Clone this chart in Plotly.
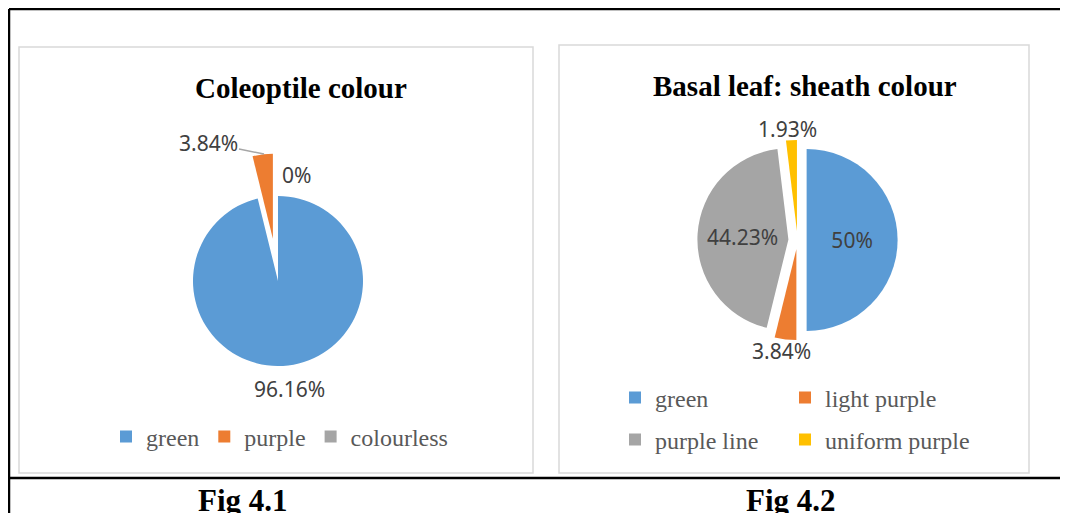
import plotly.graph_objects as go

# the page body keeps an 8px margin, so the figure is a bit smaller than the window
OFF = 8
W, H = 1068 - OFF, 513 - OFF

# chart data
cole_labels = ["green", "purple", "colourless"]
cole_values = [96.16, 3.84, 0]

basal_labels = ["green", "light purple", "purple line", "uniform purple"]
basal_values = [50, 3.84, 44.23, 1.93]

excel_colors = ["#5B9BD5", "#ED7D31", "#A5A5A5", "#FFC000"]


def fx(x):
    # window pixel -> paper
    return (x - OFF) / W


def fy(y):
    return 1 - (y - OFF) / H


def pct(v):
    return f"{v:g}%"


fig = go.Figure()

fig.add_trace(go.Pie(
    labels=cole_labels,
    values=cole_values,
    textinfo="none",
    sort=False,
    direction="clockwise",
    rotation=0,
    pull=[0, 0.5, 0],
    marker=dict(colors=excel_colors[:3]),
    domain=dict(x=[fx(150.5), fx(405.5)], y=[fy(408.5), fy(153.5)]),
    legend="legend",
    hoverinfo="label+percent",
))

fig.add_trace(go.Pie(
    labels=basal_labels,
    values=basal_values,
    text=[pct(v) for v in basal_values],
    textinfo="text",
    textposition=["inside", "none", "inside", "none"],
    insidetextorientation="horizontal",
    sort=False,
    direction="clockwise",
    rotation=0,
    pull=0.1,
    marker=dict(colors=excel_colors),
    textfont=dict(family="Noto Sans", size=21, color="#404040"),
    domain=dict(x=[fx(697.4), fx(897.6)], y=[fy(340.1), fy(139.9)]),
    showlegend=False,
    hoverinfo="label+percent",
))

# legend entries for the second chart: a 2 x 2 grid, one small legend per cell
basal_legends = ["legend2", "legend3", "legend4", "legend5"]
for lab, col, leg in zip(basal_labels, excel_colors, basal_legends):
    fig.add_trace(go.Scatter(
        x=[None], y=[None], mode="markers", name=lab,
        marker=dict(symbol="square", size=12, color=col),
        legend=leg, hoverinfo="skip",
    ))

legend_font = dict(family="Liberation Serif", size=24, color="#595959")

shapes = [
    # chart boxes
    dict(type="rect", x0=fx(19), x1=fx(533), y0=fy(473), y1=fy(47),
         line=dict(color="#D9D9D9", width=1.5)),
    dict(type="rect", x0=fx(559), x1=fx(1029), y0=fy(473), y1=fy(45),
         line=dict(color="#D9D9D9", width=1.5)),
    # table borders
    dict(type="line", x0=fx(9), x1=1, y0=fy(9), y1=fy(9), line=dict(color="black", width=2.5)),
    dict(type="line", x0=fx(9), x1=fx(9), y0=fy(9), y1=0, line=dict(color="black", width=2.5)),
    dict(type="line", x0=fx(9), x1=1, y0=fy(478), y1=fy(478), line=dict(color="black", width=2.5)),
]
for s in shapes:
    s.update(xref="paper", yref="paper", layer="below")

title_font = dict(family="Liberation Serif", size=29, color="black")
cap_font = dict(family="Liberation Serif", size=31, color="black")
label_font = dict(family="Noto Sans", size=21, color="#404040")

annotations = [
    dict(text="<b>Coleoptile colour</b>", x=fx(301), y=fy(88), font=title_font),
    dict(text="<b>Basal leaf: sheath colour</b>", x=fx(805), y=fy(86), font=title_font),
    dict(text="<b>Fig 4.1</b>", x=fx(243), y=fy(500), font=cap_font),
    dict(text="<b>Fig 4.2</b>", x=fx(791), y=fy(500), font=cap_font),
    # outside data labels
    dict(text=pct(cole_values[0]), x=fx(289), y=fy(389), font=label_font),
    dict(text=pct(cole_values[2]), x=fx(296), y=fy(175), font=label_font),
    dict(text=pct(basal_values[3]), x=fx(787), y=fy(129), font=label_font),
    dict(text=pct(basal_values[1]), x=fx(781), y=fy(351), font=label_font),
]
for a in annotations:
    a.update(xref="paper", yref="paper", showarrow=False, xanchor="center", yanchor="middle")

# purple label with its leader line
annotations.append(dict(
    text=pct(cole_values[1]), xref="paper", yref="paper",
    x=fx(264), y=fy(154), ax=-56, ay=-11,
    showarrow=True, arrowhead=0, arrowwidth=1.5, arrowcolor="#A6A6A6",
    font=label_font,
))

leg_common = dict(orientation="h", xanchor="left", yanchor="middle",
                  font=legend_font, bgcolor="rgba(0,0,0,0)")
leg_pos = {"legend2": (615, 398), "legend3": (785, 398),
           "legend4": (615, 440), "legend5": (785, 440)}

fig.update_layout(
    width=W, height=H,
    margin=dict(l=0, r=0, t=0, b=0),
    paper_bgcolor="white", plot_bgcolor="white",
    xaxis=dict(visible=False), yaxis=dict(visible=False),
    shapes=shapes,
    annotations=annotations,
    legend=dict(x=fx(106), y=fy(437), **leg_common),
    **{k: dict(x=fx(px), y=fy(py), **leg_common) for k, (px, py) in leg_pos.items()},
)

fig.write_html("out.html")
